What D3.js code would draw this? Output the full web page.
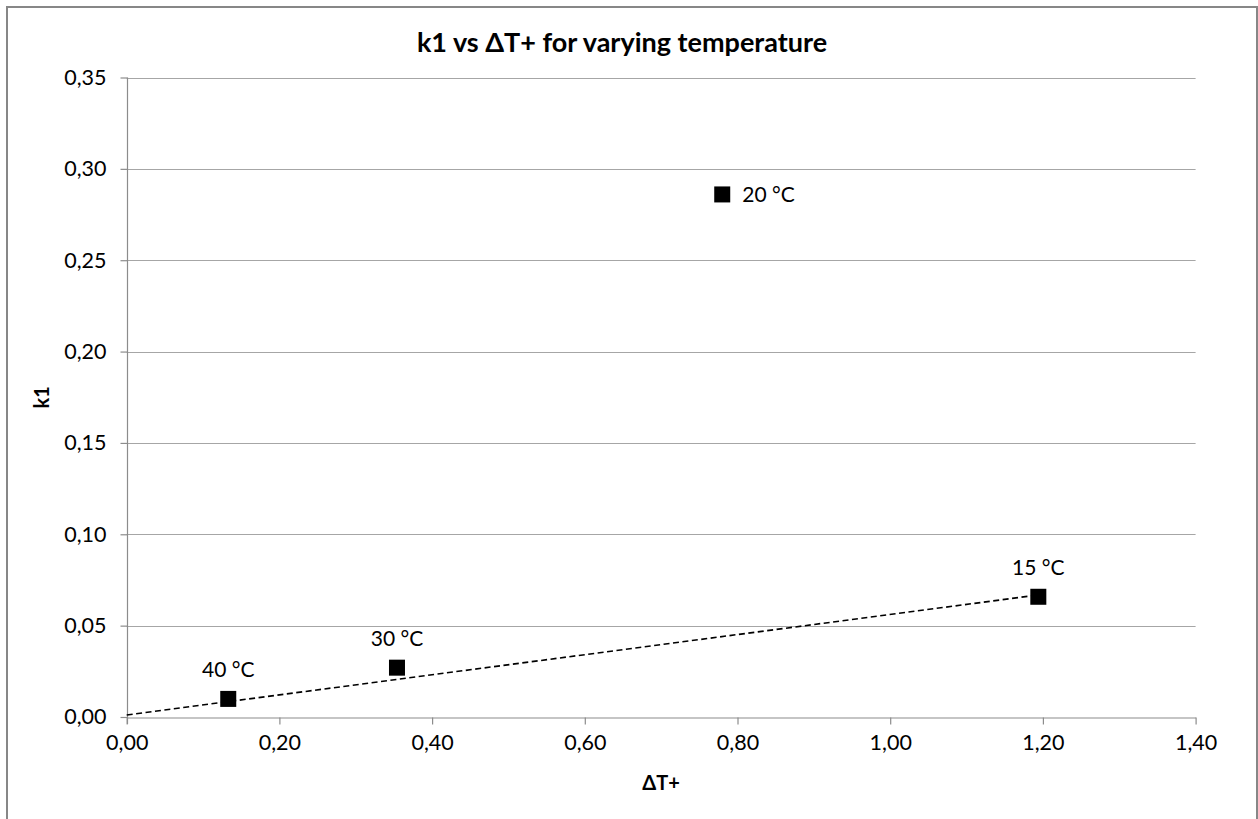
<!DOCTYPE html>
<html>
<head>
<meta charset="utf-8">
<script src="https://cdn.jsdelivr.net/npm/d3@7"></script>
<style>
  html, body { margin: 0; padding: 0; background: #fff; }
  svg { display: block; }
  text { font-family: Lato, "Open Sans", sans-serif; fill: #000; }
</style>
</head>
<body>
<svg id="chart" width="1258" height="819"></svg>
<script>
// ---- data ----
const tempLabels = ["40 °C", "30 °C", "20 °C", "15 °C"];
const dtPlus = [0.133, 0.354, 0.780, 1.194];
const k1 = [0.0099, 0.027, 0.286, 0.0658];
const labelSide = ["above", "above", "right", "above"];
const trendX = [0, 1.194];
const trendY = [0.0011, 0.0668];
const xTicks = [0, 0.2, 0.4, 0.6, 0.8, 1.0, 1.2, 1.4];
const yTicks = [0, 0.05, 0.10, 0.15, 0.20, 0.25, 0.30, 0.35];
const titleText = "k1 vs ΔT+ for varying temperature";
const xTitle = "ΔT+";
const yTitle = "k1";

const svg = d3.select("#chart");

// frame
svg.append("rect").attr("x", 7).attr("y", 7).attr("width", 1250).attr("height", 830)
  .attr("fill", "#fff").attr("stroke", "#878787").attr("stroke-width", 2);

const x = d3.scaleLinear().domain([0, 1.4]).range([126.7, 1195.6]);
const y = d3.scaleLinear().domain([0, 0.35]).range([717, 77.5]);

const loc = d3.formatLocale({decimal: ",", thousands: ".", grouping: [3], currency: ["", ""]});
const fmt = loc.format(".2f");

// gridlines
svg.append("g").selectAll("line").data(yTicks.filter(d => d > 0)).join("line")
  .attr("x1", x(0)).attr("x2", x(1.4))
  .attr("y1", d => Math.round(y(d)) + 0.5).attr("y2", d => Math.round(y(d)) + 0.5)
  .attr("stroke", "#a6a6a6").attr("stroke-width", 1.2);

// axes
const xAxis = svg.append("g").attr("transform", `translate(0,${Math.round(y(0)) + 0.5})`)
  .call(d3.axisBottom(x).tickValues(xTicks).tickFormat(fmt).tickSize(7).tickSizeOuter(0).tickPadding(10));
const yAxis = svg.append("g").attr("transform", `translate(${Math.round(x(0)) + 0.5},0)`)
  .call(d3.axisLeft(y).tickValues(yTicks).tickFormat(fmt).tickSize(7).tickSizeOuter(0).tickPadding(14));
[xAxis, yAxis].forEach(a => {
  a.select(".domain").attr("stroke", "#8c8c8c").attr("stroke-width", 1.2);
  a.selectAll(".tick line").attr("stroke", "#8c8c8c").attr("stroke-width", 1.2);
  a.selectAll(".tick text").attr("font-size", 21.5).attr("font-family", "Lato, sans-serif").attr("fill", "#000");
});
yAxis.select(".domain").attr("d", `M0,${y(0.35)}V${y(0) + 7}`);

// trendline
svg.append("path")
  .datum(trendX.map((d, i) => [d, trendY[i]]))
  .attr("d", d3.line().x(d => x(d[0])).y(d => y(d[1])))
  .attr("fill", "none").attr("stroke", "#000").attr("stroke-width", 1.6)
  .attr("stroke-dasharray", "6,3.5");

// markers
const pts = dtPlus.map((d, i) => ({x: d, y: k1[i], label: tempLabels[i], side: labelSide[i]}));
const ms = 16;
svg.append("g").selectAll("rect").data(pts).join("rect")
  .attr("x", d => x(d.x) - ms / 2).attr("y", d => y(d.y) - ms / 2)
  .attr("width", ms).attr("height", ms).attr("fill", "#000");

// data labels
svg.append("g").selectAll("text").data(pts).join("text")
  .attr("x", d => d.side === "right" ? x(d.x) + 20 : x(d.x))
  .attr("y", d => d.side === "right" ? y(d.y) + 8 : y(d.y) - 22)
  .attr("text-anchor", d => d.side === "right" ? "start" : "middle")
  .attr("font-size", 21)
  .text(d => d.label);

// title
svg.append("text").attr("x", 622).attr("y", 52).attr("text-anchor", "middle")
  .attr("font-size", 27).attr("font-weight", "bold").text(titleText);

// axis titles
svg.append("text").attr("x", (x(0) + x(1.4)) / 2).attr("y", 790).attr("text-anchor", "middle")
  .attr("font-size", 20).attr("font-weight", "bold").text(xTitle);
svg.append("text").attr("transform", `translate(49,${(y(0) + y(0.35)) / 2}) rotate(-90)`)
  .attr("text-anchor", "middle").attr("font-size", 20).attr("font-weight", "bold").text(yTitle);
</script>
</body>
</html>
